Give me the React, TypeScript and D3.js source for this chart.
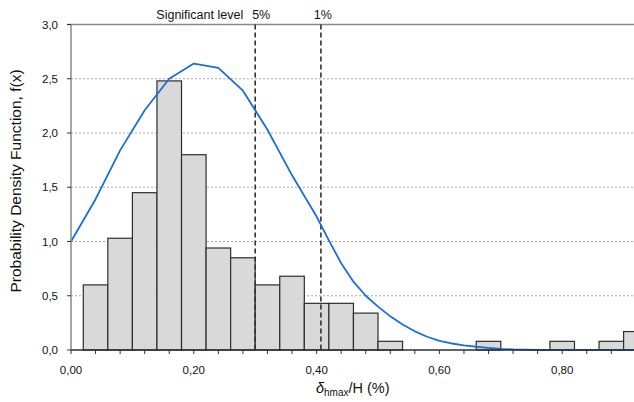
import React from "react";
import * as d3 from "d3";

// Histogram of observed drift ratios (bin width 0.04, centred on the bin value)
const binCenters = [0.04, 0.08, 0.12, 0.16, 0.2, 0.24, 0.28, 0.32, 0.36, 0.4, 0.44, 0.48, 0.52, 0.56, 0.6, 0.64, 0.68, 0.72, 0.76, 0.8, 0.84, 0.88, 0.92];
const binDensity = [0.6, 1.03, 1.45, 2.48, 1.8, 0.94, 0.85, 0.6, 0.68, 0.43, 0.43, 0.34, 0.08, 0, 0, 0, 0.08, 0, 0, 0.08, 0, 0.08, 0.17];

// Fitted probability density curve
const curveX = [0, 0.04, 0.08, 0.12, 0.16, 0.2, 0.24, 0.28, 0.32, 0.36, 0.4, 0.42, 0.44, 0.46, 0.48, 0.5, 0.52, 0.54, 0.56, 0.58, 0.6, 0.62, 0.64, 0.66, 0.68, 0.7, 0.72, 0.76, 0.8, 0.84, 0.88, 0.92, 0.96, 1.0];
const curveY = [1.0, 1.39, 1.84, 2.21, 2.5, 2.64, 2.6, 2.39, 2.03, 1.61, 1.23, 1.01, 0.8, 0.63, 0.5, 0.4, 0.31, 0.235, 0.172, 0.122, 0.085, 0.06, 0.043, 0.03, 0.02, 0.011, 0.005, 0, 0, 0, 0, 0, 0, 0];

// Significance thresholds
const sigLevels = [0.3, 0.407];
const sigLabels = ["5%", "1%"];

const xTicks = [0, 0.2, 0.4, 0.6, 0.8];
const yTicks = [0, 0.5, 1.0, 1.5, 2.0, 2.5, 3.0];

const W = 634;
const H = 402;
const binWidth = 0.04;

const locale = d3.formatLocale({ decimal: ",", thousands: ".", grouping: [3], currency: ["", ""] });
const fmt1 = locale.format(".1f");
const fmt2 = locale.format(".2f");

export default function App() {
  const x = d3.scaleLinear().domain([0, 1]).range([71, 685]);
  const y = d3.scaleLinear().domain([0, 3]).range([350, 24.5]);
  const minorTicks = d3.range(0, 1.0001, 0.04);
  const line = d3
    .line<number>()
    .x((_, i) => x(curveX[i]))
    .y((d) => y(d));

  const font = "'Liberation Sans', Arial, Helvetica, sans-serif";

  return (
    <svg
      width={W}
      height={H}
      style={{ position: "absolute", left: 0, top: 0, background: "#fff" }}
      fontFamily={font}
    >
      {/* horizontal gridlines */}
      {yTicks
        .filter((t) => t > 0 && t < 3)
        .map((t) => (
          <line key={"g" + t} x1={x(0)} x2={W} y1={y(t)} y2={y(t)} stroke="#a8a8a8" strokeWidth={1} strokeDasharray="2,2" />
        ))}
      <line x1={x(0) - 4} x2={W} y1={y(3)} y2={y(3)} stroke="#8a8a8a" strokeWidth={1.3} />

      {/* histogram bars */}
      {binCenters.map((c, i) =>
        binDensity[i] > 0 ? (
          <rect
            key={"b" + i}
            x={x(c - binWidth / 2)}
            y={y(binDensity[i])}
            width={x(c + binWidth / 2) - x(c - binWidth / 2)}
            height={y(0) - y(binDensity[i])}
            fill="#d9d9d9"
            stroke="#2e2e2e"
            strokeWidth={1.2}
          />
        ) : null
      )}

      {/* significance lines */}
      {sigLevels.map((s) => (
        <line key={"s" + s} x1={x(s)} x2={x(s)} y1={y(3)} y2={y(0)} stroke="#333" strokeWidth={1.6} strokeDasharray="5,3" />
      ))}

      {/* density curve */}
      <path d={line(curveY) || ""} fill="none" stroke="#1b6fd6" strokeWidth={1.8} strokeLinejoin="round" />

      {/* y axis */}
      <line x1={x(0)} x2={x(0)} y1={y(3)} y2={y(0)} stroke="#8a8a8a" strokeWidth={1.5} />
      {yTicks.map((t) => (
        <g key={"y" + t}>
          <line x1={x(0) - 4} x2={x(0)} y1={y(t)} y2={y(t)} stroke="#333" strokeWidth={1} />
          <text x={58} y={y(t)} dy="0.35em" textAnchor="end" fontSize={11.5} fill="#111">
            {fmt1(t)}
          </text>
        </g>
      ))}

      {/* x axis */}
      <line x1={x(0)} x2={W} y1={y(0)} y2={y(0)} stroke="#2e2e2e" strokeWidth={1.3} />
      {minorTicks.map((t) => (
        <line key={"xt" + t} x1={x(t)} x2={x(t)} y1={y(0)} y2={y(0) + 4} stroke="#333" strokeWidth={1} />
      ))}
      {xTicks.map((t) => (
        <text key={"xl" + t} x={x(t)} y={374} textAnchor="middle" fontSize={11.5} fill="#111">
          {fmt2(t)}
        </text>
      ))}

      {/* axis titles */}
      <text
        transform={`translate(21,${181}) rotate(-90)`}
        textAnchor="middle"
        fontSize={15.5}
        fill="#111"
      >
        Probability Density Function, f(x)
      </text>
      <text x={316} y={393} fontSize={14.5} fill="#111">
        <tspan fontStyle="italic">δ</tspan>
        <tspan fontSize={10} dy={3}>hmax</tspan>
        <tspan dy={-3}>/H (%)</tspan>
      </text>

      {/* significance annotations */}
      <text x={x(sigLevels[0]) - 12} y={19} textAnchor="end" fontSize={12.5} fill="#111">
        Significant level
      </text>
      {sigLevels.map((s, i) => (
        <text key={"sl" + s} x={x(s) + (i === 0 ? 6 : 2)} y={19} textAnchor="middle" fontSize={12.5} fill="#111">
          {sigLabels[i]}
        </text>
      ))}
    </svg>
  );
}
